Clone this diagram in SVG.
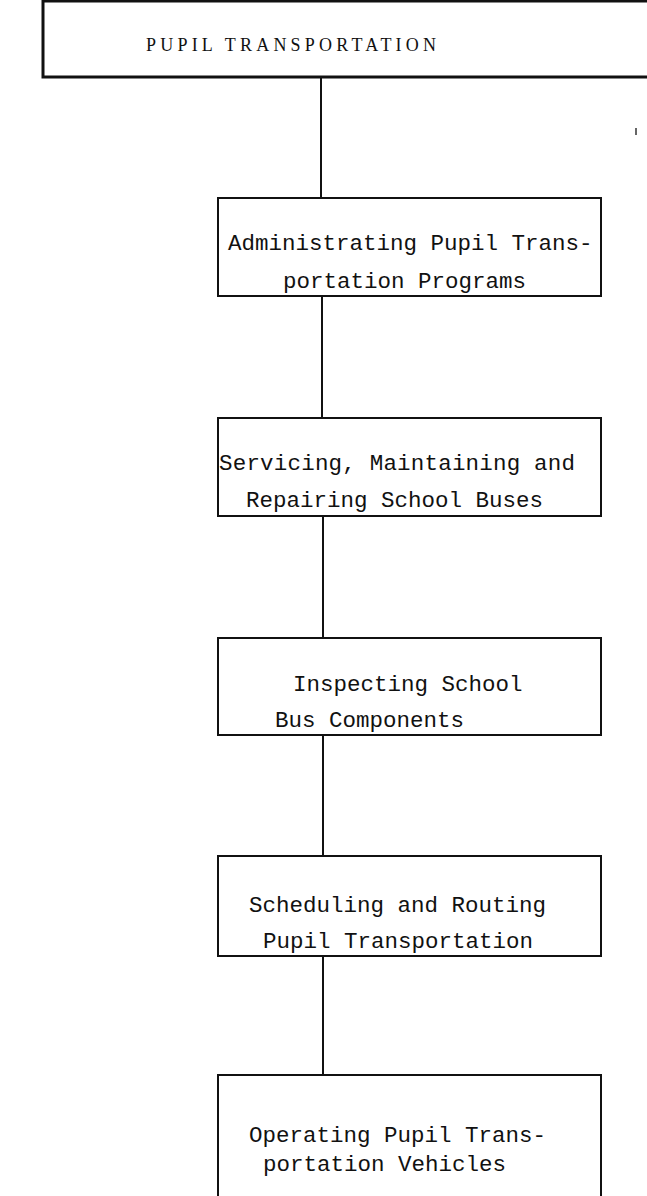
<svg xmlns="http://www.w3.org/2000/svg" width="647" height="1196" viewBox="0 0 647 1196">
<style>
.box{fill:#fff;stroke:#111;stroke-width:2}
.top{fill:#fff;stroke:#111;stroke-width:3}
.t{font-family:"Liberation Mono",monospace;font-size:22.5px;fill:#111}
.tt{font-family:"Liberation Serif",serif;font-size:18px;fill:#111}
.c{stroke:#111;stroke-width:2;fill:none}
</style>
<rect width="647" height="1196" fill="#fff"/>
<g id="connectors">
<line class="c" x1="321" y1="77" x2="321" y2="198"/>
<line class="c" x1="322" y1="296" x2="322" y2="418"/>
<line class="c" x1="323" y1="516" x2="323" y2="638"/>
<line class="c" x1="323" y1="735" x2="323" y2="856"/>
<line class="c" x1="323" y1="956" x2="323" y2="1075"/>
<line x1="636" y1="128" x2="636" y2="135" stroke="#333" stroke-width="1.5"/>
</g>
<g id="n1">
<rect class="top" x="43" y="1" width="610" height="76"/>
<text class="tt" x="146" y="51" textLength="290" lengthAdjust="spacing">PUPIL TRANSPORTATION</text>
</g>
<g id="n2">
<rect class="box" x="218" y="198" width="383" height="98"/>
<text class="t" x="228" y="250">Administrating Pupil Trans-</text>
<text class="t" x="283" y="288">portation Programs</text>
</g>
<g id="n3">
<rect class="box" x="218" y="418" width="383" height="98"/>
<text class="t" x="219" y="470" textLength="356" lengthAdjust="spacing">Servicing, Maintaining and</text>
<text class="t" x="246" y="507">Repairing School Buses</text>
</g>
<g id="n4">
<rect class="box" x="218" y="638" width="383" height="97"/>
<text class="t" x="293" y="691">Inspecting School</text>
<text class="t" x="275" y="727">Bus Components</text>
</g>
<g id="n5">
<rect class="box" x="218" y="856" width="383" height="100"/>
<text class="t" x="249" y="912">Scheduling and Routing</text>
<text class="t" x="263" y="948">Pupil Transportation</text>
</g>
<g id="n6">
<rect class="box" x="218" y="1075" width="383" height="125"/>
<text class="t" x="249" y="1142">Operating Pupil Trans-</text>
<text class="t" x="263" y="1171">portation Vehicles</text>
</g>
</svg>
